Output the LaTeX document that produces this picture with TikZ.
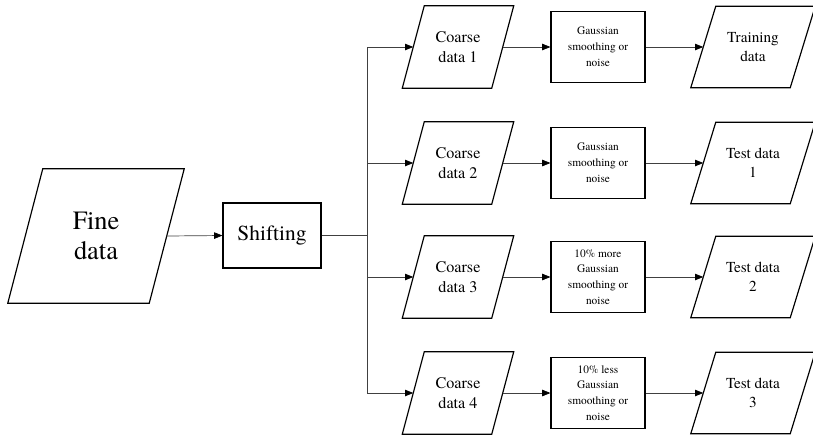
\documentclass[tikz,border=0pt]{standalone}
\usepackage{fontspec}
\setmainfont{TeX Gyre Termes}
\newfontfamily\timesfont{TeX Gyre Termes}
\usetikzlibrary{arrows.meta}

% parallelogram drawn round a named node: node name, half of the slant
\newcommand{\dataframe}[2]{%
  \draw[frame] ([xshift=#2]#1.north west) -- ([xshift=#2]#1.north east)
    -- ([xshift=-#2]#1.south east) -- ([xshift=-#2]#1.south west) -- cycle;}

\tikzset{
  frame/.style={draw=black, line width=1pt},
  datashape/.style={rectangle, align=center, inner sep=0pt},
  procbox/.style={rectangle, frame, align=center, inner sep=0pt},
  coarse/.style={datashape, minimum width=2.67cm, minimum height=2.46cm,
    font=\timesfont\fontsize{13.8}{16.5}\selectfont},
  outdata/.style={datashape, minimum width=2.97cm, minimum height=2.43cm,
    font=\timesfont\fontsize{13}{16}\selectfont},
  gauss/.style={procbox, minimum width=2.82cm, minimum height=2.13cm,
    font=\timesfont\fontsize{9.7}{13.5}\selectfont},
  link/.style={draw=black!75, line width=0.6pt},
  flow/.style={link, -{Triangle[length=7pt,width=5.5pt,color=black]}},
}

\begin{document}
\begin{tikzpicture}[x=0.03cm, y=-0.03cm]
  \clip (0,0) rectangle (813,434);

  % fine data and shifting
  \node[datashape, minimum width=4.23cm, minimum height=4.02cm,
    font=\timesfont\fontsize{22.5}{25}\selectfont] (fine) at (96,236) {Fine\\data};
  \dataframe{fine}{0.525cm}
  \node[procbox, minimum width=2.94cm, minimum height=1.95cm,
    font=\timesfont\fontsize{18.3}{20}\selectfont] (shift) at (272,235.5) {Shifting};
  \draw[flow] (fine.east) -- (shift.west);

  % split point
  \coordinate (split) at (367,235.5);
  \draw[link] (shift.east) -- (split);

  % one row per coarse data set
  \foreach \i/\y/\g/\o in {
      1/47/{Gaussian\\smoothing or\\noise}/{Training\\data},
      2/163/{Gaussian\\smoothing or\\noise}/{Test data\\1},
      3/277/{10\% more\\Gaussian\\smoothing or\\noise}/{Test data\\2},
      4/393/{10\% less\\Gaussian\\smoothing or\\noise}/{Test data\\3}} {
    \node[coarse] (coarse\i) at (458,\y) {Coarse\\data \i};
    \dataframe{coarse\i}{0.33cm}
    \node[gauss] (gauss\i) at (598,\y) {\g};
    \node[outdata] (out\i) at (753,\y) {\o};
    \dataframe{out\i}{0.375cm}
    \draw[flow] (split |- coarse\i.west) -- (coarse\i.west);
    \draw[flow] (coarse\i.east) -- (gauss\i.west);
    \draw[flow] (gauss\i.east) -- (out\i.west);
  }

  % vertical bus
  \draw[link] (split |- coarse1.west) -- (split |- coarse4.west);
\end{tikzpicture}
\end{document}
